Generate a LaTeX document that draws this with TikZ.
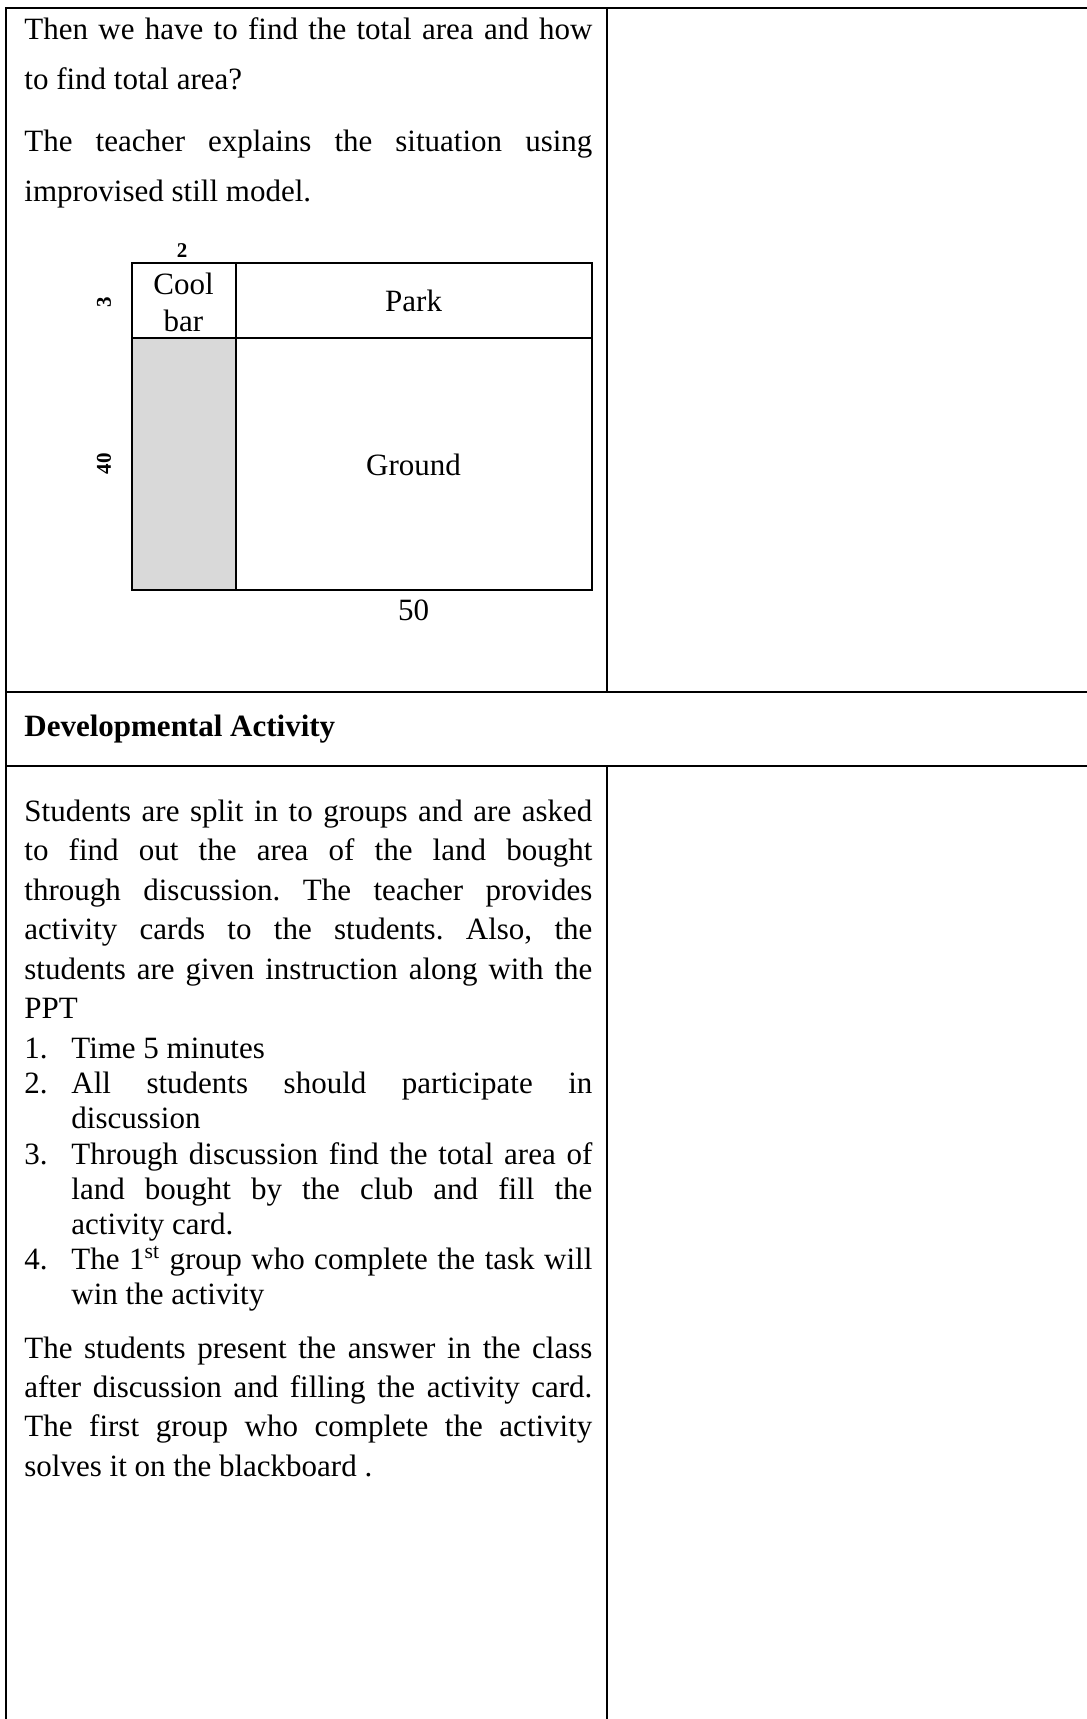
\documentclass[tikz,border=0pt]{standalone}
\usepackage{fontspec}
\setmainfont{Liberation Serif}[Ligatures=CommonOff]
\definecolor{cellgrey}{HTML}{D9D9D9}
\tolerance=9999
\hyphenpenalty=10000
\frenchspacing
\begin{document}
\begin{tikzpicture}[x=0.5pt,y=-0.5pt,
  rule/.style={line width=1pt,line cap=rect},
  para/.style={anchor=base west,inner sep=0pt,text width=284pt,align=justify},
  listtext/.style={anchor=base west,inner sep=0pt,text width=260.5pt,align=justify,font=\fontsize{15.5}{17.5}\selectfont},
  listnum/.style={anchor=base west,inner sep=0pt,font=\fontsize{15.5}{17.5}\selectfont},
  lbl/.style={anchor=base,inner sep=0pt,font=\fontsize{15.5}{18.5}\selectfont},
  dim/.style={inner sep=0pt,font=\fontsize{10.5}{12}\selectfont\bfseries}]
\useasboundingbox (0,0) rectangle (1087,1719);
% table rules
\draw[rule] (1087,7.5) -- (6,7.5) -- (6,1719);
\draw[rule] (607,7.5) -- (607,692);
\draw[rule] (607,766) -- (607,1719);
\draw[rule] (6,692) -- (1087,692);
\draw[rule] (6,766) -- (1087,766);
% top cell text
\node[para,font=\fontsize{15.5}{25}\selectfont] (p1) at (24,39)
  {Then we have to find the total area and how\linebreak to find total area?};
\node[para,font=\fontsize{15.5}{25}\selectfont] (p2) at (24,151.5)
  {The teacher explains the situation using\linebreak improvised still model.};
% model
\fill[cellgrey] (131.5,337.5) rectangle (235.6,589.5);
\draw[rule,line cap=butt] (131.5,263) rectangle (591.7,589.5);
\draw[rule,line cap=butt] (235.6,263) -- (235.6,589.5);
\draw[rule,line cap=butt] (131.5,337.5) -- (591.7,337.5);
\node[dim,anchor=base] (two) at (182,257) {2};
\node[dim,rotate=90] (three) at (104,302) {3};
\node[dim,rotate=90] (forty) at (104,463.5) {40};
\node[lbl,text width=50pt,align=center] (cool) at (183.5,294) {Cool\\bar};
\node[lbl] (park) at (413.6,311.7) {Park};
\node[lbl] (ground) at (413.6,475) {Ground};
\node[lbl] (fifty) at (413.6,620) {50};
% heading
\node[anchor=base west,inner sep=0pt,font=\fontsize{15.5}{19.7}\selectfont\bfseries] (head) at (24,736.5) {Developmental Activity};
% activity text
\node[para,font=\fontsize{15.5}{19.7}\selectfont] (p3) at (24,821.5)
  {Students are split in to groups and are asked\linebreak to find out the area of the land bought\linebreak through discussion. The teacher provides\linebreak activity cards to the students. Also, the\linebreak students are given instruction along with the\linebreak PPT};
\node[listnum] (n1) at (24,1058.5) {1.};
\node[listtext] (i1) at (71,1058.5) {Time 5 minutes};
\node[listnum] (n2) at (24,1093.5) {2.};
\node[listtext] (i2) at (71,1093.5) {All students should participate in\linebreak discussion};
\node[listnum] (n3) at (24,1164) {3.};
\node[listtext] (i3) at (71,1164) {Through discussion find the total area of\linebreak land bought by the club and fill the\linebreak activity card.};
\node[listnum] (n4) at (24,1269) {4.};
\node[listtext] (i4) at (71,1269) {The 1\textsuperscript{st} group who complete the task will\linebreak win the activity};
\node[para,font=\fontsize{15.5}{19.7}\selectfont] (p4) at (24,1358)
  {The students present the answer in the class\linebreak after discussion and filling the activity card.\linebreak The first group who complete the activity\linebreak solves it on the blackboard .};
\end{tikzpicture}
\end{document}
